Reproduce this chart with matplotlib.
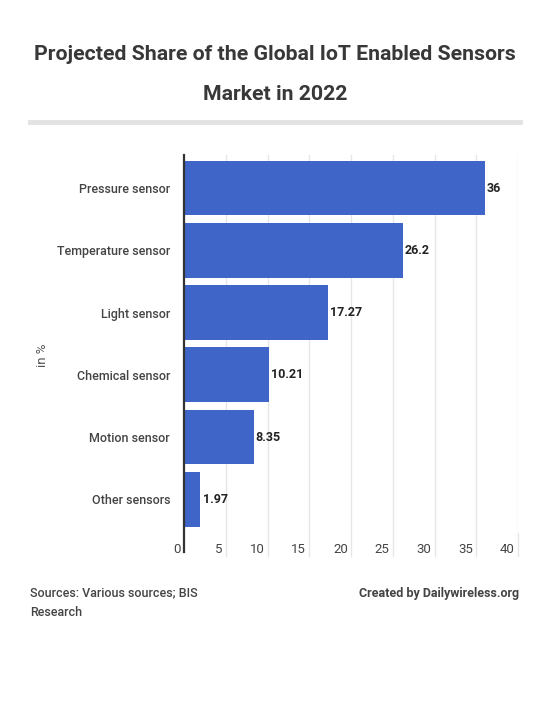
import matplotlib.pyplot as plt
import matplotlib.transforms as mtransforms
from matplotlib.lines import Line2D

# Données
categories = ['Pressure sensor', 'Temperature sensor', 'Light sensor',
              'Chemical sensor', 'Motion sensor', 'Other sensors']
valeurs = [36, 26.2, 17.27, 10.21, 8.35, 1.97]
etiquettes = ['36', '26.2', '17.27', '10.21', '8.35', '1.97']
graduations = [0, 5, 10, 15, 20, 25, 30, 35, 40]

plt.rcParams['font.family'] = ['Roboto', 'DejaVu Sans']

fig = plt.figure(figsize=(5.5, 7.02), dpi=100)
fig.patch.set_facecolor('white')

# Titre sur deux lignes
fig.text(0.5, 1 - 55 / 702, 'Projected Share of the Global IoT Enabled Sensors',
         ha='center', va='center', fontsize=15.3, fontweight='bold', color='#383838')
fig.text(0.5, 1 - 95 / 702, 'Market in 2022',
         ha='center', va='center', fontsize=15.3, fontweight='bold', color='#383838')
fig.add_artist(Line2D([30 / 550, 520 / 550], [1 - 122 / 702, 1 - 122 / 702],
                      color='#e3e3e3', linewidth=3.5, transform=fig.transFigure))

ax = fig.add_axes([184 / 550, 1 - 533 / 702, 334 / 550, 378 / 702])
y = list(range(len(categories)))
ax.barh(y, valeurs, height=0.88, color='#3f65c9', zorder=2)
ax.set_ylim(len(categories) - 0.5 + 0.04, -0.53)
ax.set_xlim(0, 40)

ax.set_yticks(y)
ax.set_yticklabels(categories, fontsize=9, color='#444444', fontweight='medium')
ax.tick_params(axis='y', length=0, pad=10)

ax.set_xticks(graduations)
ax.set_xticklabels([str(g) for g in graduations], fontsize=9.5, color='#444444', ha='right')
ax.tick_params(axis='x', length=0, pad=7)
decalage = mtransforms.ScaledTranslation(-3 / 100, 0, fig.dpi_scale_trans)
for lab in ax.get_xticklabels():
    lab.set_transform(lab.get_transform() + decalage)

# Grille verticale prolongée sous l'axe
for g in graduations[1:]:
    ax.add_line(Line2D([g, g], [0, -0.06], color='#e6e6e6', linewidth=1,
                       transform=ax.get_xaxis_transform(), clip_on=False, zorder=1))
    ax.axvline(g, color='#e6e6e6', linewidth=1, zorder=1)

for s in ['top', 'right', 'bottom', 'left']:
    ax.spines[s].set_visible(False)
ax.add_line(Line2D([0, 0], [-0.05, 1], color='#333333', linewidth=1.6,
                   transform=ax.get_xaxis_transform(), clip_on=False, zorder=3))

for yi, v, t in zip(y, valeurs, etiquettes):
    ax.text(v + 0.25, yi, t, va='center', ha='left', fontsize=9,
            fontweight='bold', color='#222222')

fig.text(42 / 550, 1 - 355 / 702, 'in %', rotation=90, ha='center', va='center',
         fontsize=9.5, color='#555555')

# Pied de page
fig.text(30 / 550, 1 - 593 / 702, 'Sources: Various sources; BIS', ha='left', va='center',
         fontsize=9, color='#444444', fontweight='medium')
fig.text(30 / 550, 1 - 612 / 702, 'Research', ha='left', va='center',
         fontsize=9, color='#444444', fontweight='medium')
fig.text(519 / 550, 1 - 593 / 702, 'Created by Dailywireless.org', ha='right', va='center',
         fontsize=9, fontweight='bold', color='#444444')

fig.savefig('out.png', dpi=100, facecolor='white')
